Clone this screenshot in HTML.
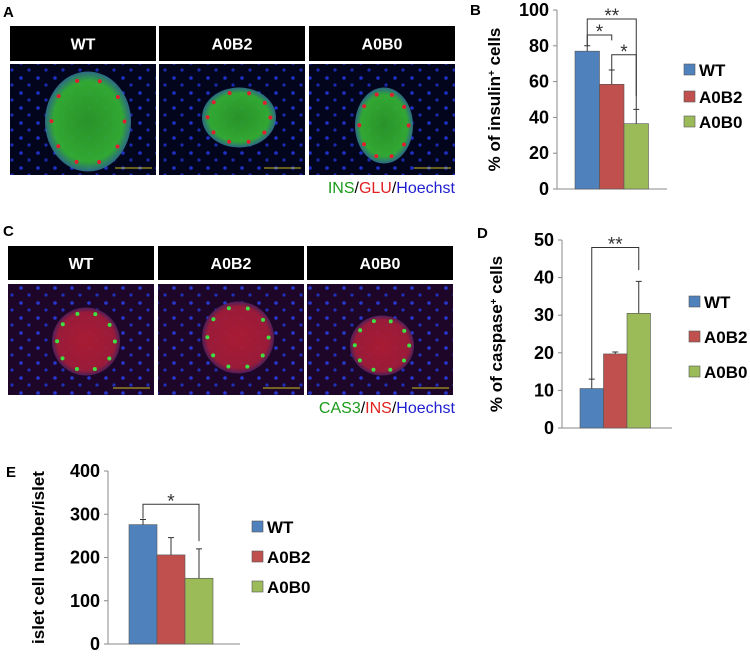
<!DOCTYPE html>
<html><head><meta charset="utf-8"><style>
body{margin:0;background:#fff;width:750px;height:652px;overflow:hidden;font-family:"Liberation Sans",sans-serif}
svg text{font-family:"Liberation Sans",sans-serif}
</style></head><body>
<svg id="fig" width="750" height="652" viewBox="0 0 750 652">
<defs>
<radialGradient id="gG"><stop offset="0" stop-color="#2a9a2a"/><stop offset="0.8" stop-color="#34b034"/><stop offset="1" stop-color="#2d6e8a"/></radialGradient>
<radialGradient id="gR"><stop offset="0" stop-color="#b01c34"/><stop offset="0.85" stop-color="#a01c3a"/><stop offset="1" stop-color="#50205a"/></radialGradient>
<pattern id="nuc" width="17" height="15" patternUnits="userSpaceOnUse"><rect width="17" height="15" fill="#03051c"/><circle cx="4" cy="3" r="1.8" fill="#1f30c8"/><circle cx="12" cy="10" r="1.6" fill="#1a2ab0"/></pattern>
<pattern id="nucR" width="17" height="15" patternUnits="userSpaceOnUse"><rect width="17" height="15" fill="#1e0628"/><circle cx="4" cy="3" r="1.8" fill="#2638d0"/><circle cx="12" cy="10" r="1.6" fill="#2030b8"/></pattern>
</defs>
<g id="imgs"></g>
<g id="charts"></g>
</svg>
<script>
// ---- chart data ----
const groups = ["WT","A0B2","A0B0"];
const colors = ["#4f81bd","#c0504d","#9bbb59"];
const insulinValues = [77, 58.5, 36.5];
const insulinErrors = [3, 8, 8];
const insulinTicks = [0,20,40,60,80,100];
const caspaseValues = [10.5, 19.7, 30.5];
const caspaseErrors = [2.5, 0.5, 8.5];
const caspaseTicks = [0,10,20,30,40,50];
const cellValues = [276, 206, 152];
const cellErrors = [12, 40, 68];
const cellTicks = [0,100,200,300,400];

const NS="http://www.w3.org/2000/svg";
function mk(tag,attrs,parent,txt){const e=document.createElementNS(NS,tag);for(const k in attrs)e.setAttribute(k,attrs[k]);if(txt!==undefined)e.textContent=txt;parent.appendChild(e);return e;}
const svg=document.getElementById('fig');
const imgs=document.getElementById('imgs');
const charts=document.getElementById('charts');

[["A",3,17],["B",470,15],["C",3,236],["D",477,238],["E",6,477]].forEach(p=>{
 const t=mk('text',{x:p[1],y:p[2],'font-size':15,'font-weight':'bold',fill:'#000'},svg,p[0]);
 
 
});

function micro(row,x0s,yH,hH,yI,hI,type){
 x0s.forEach((x,i)=>{
  const g=mk('g',{},imgs);
  
  
  mk('rect',{x:x,y:yH,width:146,height:hH,fill:'#000'},g);
  mk('text',{x:x+73,y:yH+hH/2+6,'text-anchor':'middle','font-size':16,'font-weight':'bold',fill:'#fff'},g,groups[i]);
  mk('rect',{x:x,y:yI,width:146,height:hI,fill:type==='ins'?'url(#nuc)':'url(#nucR)'},g);
  const cx=x+[78,80,75][i], cy=yI+hI/2+[2,-2,6][i];
  const rx=type==='ins'?[43,37,29][i]:[34,36,32][i], ry=type==='ins'?[50,30,38][i]:[34,36,30][i];
  mk('ellipse',{cx:cx,cy:cy,rx:rx,ry:ry,fill:type==='ins'?'url(#gG)':'url(#gR)',opacity:0.95},g);
  for(let k=0;k<10;k++){
   const a=k*0.63, r=0.85;
   mk('circle',{cx:cx+Math.cos(a)*rx*r,cy:cy+Math.sin(a)*ry*r,r:2,fill:type==='ins'?'#e02030':'#40e040'},g);
  }
  mk('line',{x1:x+105,y1:yI+hI-7,x2:x+142,y2:yI+hI-7,stroke:'#c8c020','stroke-width':1},g);
 });
}
micro('a',[10,159,309],26,35,64,111,'ins');
micro('c',[8,158,307],246,34,284,111,'cas');

function stainLabel(y,parts,name){
 const t=mk('text',{x:455,y:y,'text-anchor':'end','font-size':16},svg);
 
 
 parts.forEach(p=>{mk('tspan',{fill:p[1]},t,p[0]);});
}
stainLabel(193,[["INS","#1a9a1a"],["/","#000"],["GLU","#e02020"],["/","#000"],["Hoechst","#2020d0"]],'stain-legend-a');
stainLabel(413,[["CAS3","#1a9a1a"],["/","#000"],["INS","#e02020"],["/","#000"],["Hoechst","#2020d0"]],'stain-legend-c');

function barChart(o){
 const g=mk('g',{},charts);
 
 
 const max=o.ticks[o.ticks.length-1];
 const y=v=>o.y0-(v/max)*(o.y0-o.yTop);
 const bx=i=>o.bx0+i*o.bw;
 mk('line',{x1:o.ax,y1:o.yTop,x2:o.ax,y2:o.y0,stroke:'#888','stroke-width':1},g);
 mk('line',{x1:o.ax,y1:o.y0,x2:o.axEnd,y2:o.y0,stroke:'#888','stroke-width':1},g);
 o.ticks.forEach(t=>{
  mk('line',{x1:o.ax-4,y1:y(t),x2:o.ax,y2:y(t),stroke:'#888'},g);
  const tl=mk('text',{x:o.ax-8,y:y(t)+6,'text-anchor':'end','font-size':18,'font-weight':'bold'},g,String(t));
  
  
 });
 const yt=mk('text',{x:0,y:0,'text-anchor':'middle','font-size':17,'font-weight':'bold',transform:`translate(${o.titleX},${(o.yTop+o.y0)/2}) rotate(-90)`},g);
 
 
 o.title.forEach(p=>{mk('tspan',p[1]?{'baseline-shift':'super','font-size':10}:{},yt,p[0]);});
 o.vals.forEach((v,i)=>{
  const r=mk('rect',{x:bx(i),y:y(v),width:o.bw,height:o.y0-y(v),fill:colors[i],stroke:'#555','stroke-width':0.6},g);
  
  
  const cx=bx(i)+o.bw/2, te=y(v+o.errs[i]);
  const e=mk('path',{d:`M${cx},${y(v)}V${te}M${cx-3},${te}H${cx+3}`,stroke:'#333','stroke-width':1,fill:'none'},g);
  
  
 });
 o.sig.forEach(s=>{
  const x1=bx(s[0])+o.bw/2+(s[5]||0), x2=bx(s[1])+o.bw/2, yl=y(s[2]);
  const p=mk('path',{d:`M${x1},${y(s[3])}V${yl}H${x2}V${y(s[4])}`,stroke:'#333','stroke-width':1,fill:'none'},g);
  
  
  const st=mk('text',{x:(x1+x2)/2,y:yl+3,'text-anchor':'middle','font-size':19,fill:'#333'},g,s[6]);
  
  
 });
 groups.forEach((gname,i)=>{
  const ly=o.legY[i];
  const lg=mk('g',{},g);
  
  
  mk('rect',{x:o.legX,y:ly-6,width:11,height:11,fill:colors[i],stroke:'#555','stroke-width':0.6},lg);
  mk('text',{x:o.legX+15,y:ly+6,'font-size':17,'font-weight':'bold'},lg,gname);
 });
}
barChart({name:'chart-b-insulin',ax:557,axEnd:667,y0:189,yTop:10,bx0:575,bw:24.5,ticks:insulinTicks,vals:insulinValues,errs:insulinErrors,
 title:[["% of insulin"],["+",1],[" cells"]],titleX:500,
 sig:[[0,2,95,80,52,0,"**"],[0,1,86,80,83,0,"*"],[1,2,75,66.5,44.5,0,"*"]],legX:684,legY:[70,97,122]});
barChart({name:'chart-d-caspase',ax:562,axEnd:672,y0:428,yTop:240,bx0:580,bw:23.5,ticks:caspaseTicks,vals:caspaseValues,errs:caspaseErrors,
 title:[["% of caspase"],["+",1],[" cells"]],titleX:502,
 sig:[[0,2,48,13,42,0,"**"]],legX:689,legY:[302,337,372]});
barChart({name:'chart-e-cell-number',ax:108,axEnd:240,y0:644,yTop:471,bx0:129,bw:28,ticks:cellTicks,vals:cellValues,errs:cellErrors,
 title:[["islet cell number/islet"]],titleX:44,
 sig:[[0,2,323,290,238,0,"*"]],legX:252,legY:[527,557,587]});
</script>
</body></html>
